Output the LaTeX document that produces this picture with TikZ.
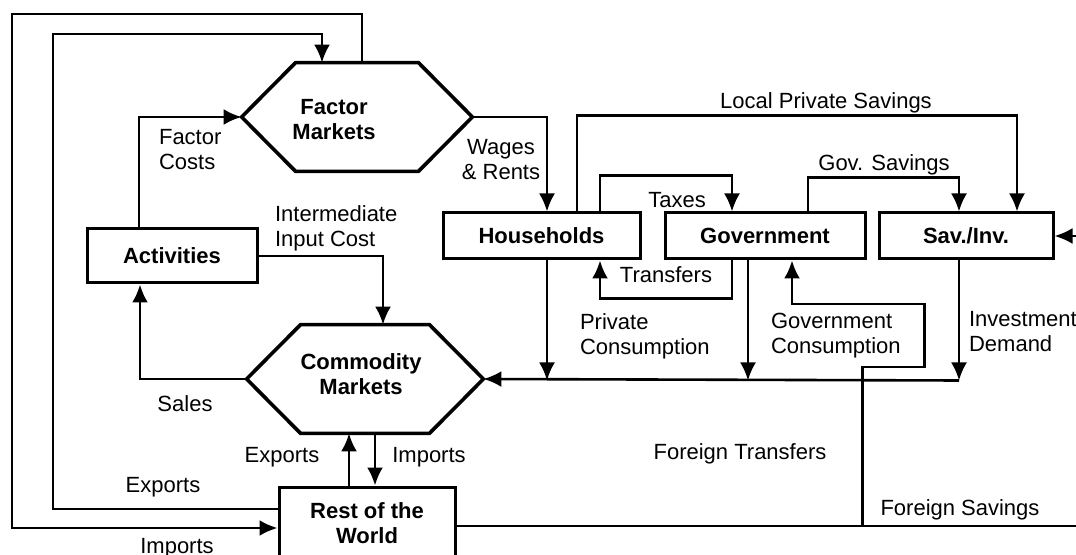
\documentclass[tikz,border=0pt]{standalone}
\usepackage{fontspec}
\setmainfont{Liberation Sans}
\usetikzlibrary{arrows.meta}

\begin{document}
\begin{tikzpicture}[x=0.5pt,y=-0.5pt,
    every node/.style={font=\fontsize{11}{12.5}\selectfont},
    box/.style={draw,line width=1.5pt,inner sep=0,align=center,font=\fontsize{11}{12.5}\selectfont\bfseries},
    hex/.style={inner sep=0,minimum height=54pt},
    hexlbl/.style={align=center,font=\fontsize{11}{12.5}\selectfont\bfseries},
    hexline/.style={line width=1.8pt,line join=miter},
    flow/.style={line width=1.3pt,-{Latex[length=9pt,width=8pt]}}]
\path[use as bounding box,fill=white] (0,0) rectangle (1076,555);
% accounts
\node[box,minimum width=85pt,minimum height=27pt] (act) at (172,256) {Activities};
\node[box,minimum width=98.5pt,minimum height=23pt] (hh) at (541.5,236) {Households};
\node[box,minimum width=100pt,minimum height=23pt] (gov) at (765,236) {Government};
\node[box,minimum width=87pt,minimum height=23pt] (sav) at (966,236) {Sav./Inv.};
\node[box,minimum width=88pt,minimum height=36pt] (row) at (367,523) {Rest of the\\World};
% markets
\node[hex,minimum width=115pt] (fm) at (357,117) {};
\node[hex,minimum width=118pt] (cm) at (365,379) {};
\foreach \m in {fm,cm}
    \draw[hexline] (\m.west) -- ([shift={(54,0)}]\m.north west) -- ([shift={(-54,0)}]\m.north east)
        -- (\m.east) -- ([shift={(-54,0)}]\m.south east) -- ([shift={(54,0)}]\m.south west) -- cycle;
\node[hexlbl] (fmlbl) at (334,120) {Factor\\Markets};
\node[hexlbl] (cmlbl) at (361,374) {Commodity\\Markets};
% outer loops
\coordinate (loopA) at (12,14);
\coordinate (loopB) at (53,34);
\draw[flow] ([shift={(5,0)}]fm.north) |- (loopA) |- ([shift={(0,5)}]row.west);
\draw[flow] ([shift={(0,-14)}]row.west) -| (loopB) -| ([shift={(-35,0)}]fm.north);
% activities
\draw[flow] ([shift={(-33,0)}]act.north) |- (fm.west);
\draw[flow] (act.east) -| ([shift={(18,0)}]cm.north);
\draw[flow] (cm.west) -| ([shift={(-32,0)}]act.south);
% institutions
\draw[flow] (fm.east) -| ([shift={(5.5,0)}]hh.north);
\draw[flow] ([shift={(35.5,0)}]hh.north) -- ++(0,-96) -| ([shift={(51,0)}]sav.north);
\draw[flow] ([shift={(58.5,0)}]hh.north) -- ++(0,-36) -| ([shift={(-33,0)}]gov.north);
\draw[flow] ([shift={(-33,0)}]gov.south) -- ++(0,38) -| ([shift={(58.5,0)}]hh.south);
\draw[flow] ([shift={(43,0)}]gov.north) -- ++(0,-34) -| ([shift={(-7,0)}]sav.north);
% final demand
\foreach \b/\s in {hh/5.5,gov/-17,sav/-7}
    \draw[flow] ([shift={(\s,0)}]\b.south) -- ++(0,120);
\draw[flow] ([shift={(-7,120)}]sav.south) -- (cm.east);
% rest of the world
\draw[flow] ([shift={(-18,0)}]row.north) -- ([shift={(-16,0)}]cm.south);
\draw[flow] ([shift={(10,0)}]cm.south) -- ([shift={(8,0)}]row.north);
\draw[flow] ([shift={(0,3)}]row.east) -- ++(406,0) -- ++(0,-159) -- ++(62,0) -- ++(0,-63)
    -| ([shift={(27,0)}]gov.south);
\draw[flow] ([shift={(0,3)}]row.east) -- ++(650,0) |- (sav.east);
% labels
\node[align=left,anchor=west] (lblFC) at (152,150) {Factor\\Costs};
\node[align=left,anchor=west] (lblIIC) at (268,228) {Intermediate\\Input Cost};
\node (lblSales) at (185,404) {Sales};
\node (lblExpO) at (163,487) {Exports};
\node (lblImpO) at (177,548) {Imports};
\node (lblExp) at (282,457) {Exports};
\node (lblImp) at (429,457) {Imports};
\node[align=center] (lblWR) at (501,160) {Wages\\\& Rents};
\node (lblLPS) at (826,103) {Local Private Savings};
\node (lblTax) at (677,200) {Taxes};
\node (lblTr) at (666,275) {Transfers};
\node (lblGS) at (884,165) {Gov. Savings};
\node[align=left,anchor=west] (lblPC) at (573,336) {Private\\Consumption};
\node[align=left,anchor=west] (lblGC) at (764,336) {Government\\Consumption};
\node[align=left,anchor=west] (lblID) at (962,332) {Investment\\Demand};
\node (lblFT) at (740,454) {Foreign Transfers};
\node (lblFS) at (960,510) {Foreign Savings};
\end{tikzpicture}
\end{document}
